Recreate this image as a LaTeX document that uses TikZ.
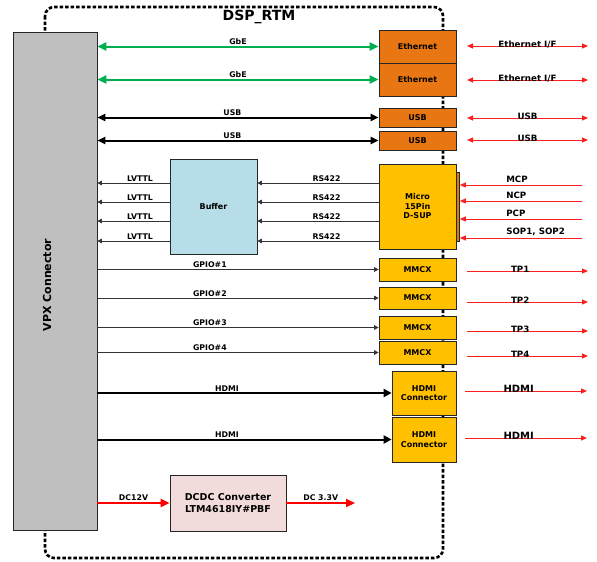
\documentclass[tikz,border=0pt]{standalone}
\usepackage{fontspec}
\setmainfont{DejaVu Sans}
\usetikzlibrary{arrows.meta}
\definecolor{gbegreen}{RGB}{0,176,80}
\definecolor{sigred}{RGB}{255,30,30}
\definecolor{ethorange}{RGB}{232,118,18}
\definecolor{connyellow}{RGB}{255,192,0}
\definecolor{stripbrown}{RGB}{214,128,10}
\definecolor{bufblue}{RGB}{183,221,232}
\definecolor{dcpink}{RGB}{242,220,219}
\definecolor{vpxgray}{RGB}{191,191,191}

\begin{document}
\begin{tikzpicture}[x=1pt,y=-1pt,line width=0.8pt,>=Triangle,
  box/.style={draw=black!85,line width=0.7pt,inner sep=0pt,align=center,
    font=\bfseries\fontsize{8}{9.5}\selectfont},
  lbl/.style={anchor=south,inner sep=1pt,font=\bfseries\fontsize{7.8}{9}\selectfont},
  rlbl/.style={anchor=base,inner sep=0pt,yshift=-1pt,font=\bfseries\fontsize{8.7}{10}\selectfont},
  gbe/.style={draw=gbegreen,line width=2pt,{Triangle[length=9pt,width=8pt]}-{Triangle[length=9pt,width=8pt]}},
  usbline/.style={line width=2pt,{Triangle[length=8pt,width=7pt]}-{Triangle[length=8pt,width=7pt]}},
  sig/.style={draw=black!80,line width=0.8pt,-{Triangle[length=4.5pt,width=4.5pt]}},
  redone/.style={draw=sigred,line width=1pt,-{Triangle[length=6pt,width=5pt]}},
  redbi/.style={draw=sigred,line width=1pt,{Triangle[length=6pt,width=5pt]}-{Triangle[length=6pt,width=5pt]}},
  hdmiline/.style={line width=2pt,-{Triangle[length=8pt,width=8pt]}},
  dcline/.style={draw=red,line width=2pt,-{Triangle[length=9pt,width=8pt]}}]
\useasboundingbox (0,0) rectangle (597,562);
% ================= board outline =================
\draw[line width=2.6pt,dash pattern=on 3.5pt off 2pt,rounded corners=9pt] (45,7) rectangle (443,558);
\node[font=\bfseries\fontsize{14}{16}\selectfont] (title) at (259,17) {DSP\_RTM};
% ================= blocks =================
\node[box,fill=vpxgray,minimum width=84,minimum height=498] (vpx) at (55,281) {};
\node[rotate=90,font=\bfseries\fontsize{11}{13}\selectfont] (vpxlbl) at (47,285) {VPX Connector};
\node[box,fill=ethorange,minimum width=77,minimum height=33] (eth1) at (417.5,46.5) {Ethernet};
\node[box,fill=ethorange,minimum width=77,minimum height=33] (eth2) at (417.5,79.5) {Ethernet};
\node[box,fill=ethorange,minimum width=77,minimum height=19] (usb1) at (417.5,117.5) {USB};
\node[box,fill=ethorange,minimum width=77,minimum height=19] (usb2) at (417.5,140.5) {USB};
\node[box,fill=stripbrown,minimum width=4,minimum height=69] (strip) at (457.5,206.5) {};
\node[box,fill=connyellow,minimum width=77,minimum height=85] (dsub) at (417.5,206.5) {Micro\\15Pin\\D-SUP};
\node[box,fill=connyellow,minimum width=77,minimum height=23] (mmcx1) at (417.5,269.5) {MMCX};
\node[box,fill=connyellow,minimum width=77,minimum height=22] (mmcx2) at (417.5,298) {MMCX};
\node[box,fill=connyellow,minimum width=77,minimum height=23] (mmcx3) at (417.5,327.5) {MMCX};
\node[box,fill=connyellow,minimum width=77,minimum height=23] (mmcx4) at (417.5,352.5) {MMCX};
\node[box,fill=connyellow,minimum width=64,minimum height=44] (hdmi1) at (424,393) {HDMI\\Connector};
\node[box,fill=connyellow,minimum width=64,minimum height=45] (hdmi2) at (424,439.5) {HDMI\\Connector};
\node[box,fill=bufblue,minimum width=87,minimum height=95] (buf) at (213.5,206.5) {Buffer};
\node[box,fill=dcpink,minimum width=116,minimum height=56,font=\bfseries\fontsize{9.5}{12}\selectfont] (dcdc) at (228,503) {DCDC Converter\\LTM4618IY\#PBF};
% ================= links to VPX =================
\foreach \n in {eth1,eth2}
  \draw[gbe] (vpx.east |- \n.west) -- (\n.west) node[midway,lbl,text=black]{GbE};
\foreach \n in {usb1,usb2}
  \draw[usbline] (vpx.east |- \n.west) -- (\n.west) node[pos=0.48,lbl]{USB};
\foreach \yy [count=\i] in {183,202,221,241} {
  \coordinate (rs\i) at (dsub.west |- 0,\yy);
  \draw[sig] (rs\i) -- (rs\i -| buf.east) node[pos=0.43,lbl]{RS422};
  \draw[sig] (rs\i -| buf.west) -- (rs\i -| vpx.east) node[pos=0.41,lbl]{LVTTL};
}
\foreach \i in {1,...,4}
  \draw[sig] (vpx.east |- mmcx\i.west) -- (mmcx\i.west) node[pos=0.4,lbl]{GPIO\#\i};
\foreach \n in {hdmi1,hdmi2}
  \draw[hdmiline] (vpx.east |- \n.west) -- (\n.west) node[pos=0.44,lbl]{HDMI};
\draw[dcline] (vpx.east |- dcdc.west) -- (dcdc.west) node[midway,lbl]{DC12V};
\coordinate (dcout) at (355,503);
\draw[dcline] (dcdc.east) -- (dcout) node[midway,lbl]{DC 3.3V};
% ================= external interfaces =================
\foreach \yy/\txt [count=\i] in {46/{Ethernet I/F},80/{Ethernet I/F},118/USB,140/USB} {
  \coordinate (ifa\i) at (467,\yy);
  \coordinate (ifb\i) at (588,\yy);
  \draw[redbi] (ifa\i) -- (ifb\i) node[midway,rlbl]{\txt};
}
\foreach \yy/\txt [count=\i] in {185/MCP,201/NCP,219/PCP,238/{SOP1, SOP2}} {
  \coordinate (sp\i) at (582,\yy);
  \draw[redone] (sp\i) -- (sp\i -| strip.east) node[pos=0.64,anchor=south west,inner sep=2pt,
    font=\bfseries\fontsize{8.7}{10}\selectfont]{\txt};
}
\foreach \yy [count=\i] in {271,302,331,356} {
  \coordinate (tpa\i) at (467,\yy);
  \coordinate (tpb\i) at (588,\yy);
  \draw[redone] (tpa\i) -- (tpb\i) node[pos=0.44,rlbl]{TP\i};
}
\foreach \yy [count=\i] in {391,438} {
  \coordinate (hda\i) at (465,\yy);
  \coordinate (hdb\i) at (587,\yy);
  \draw[redone] (hda\i) -- (hdb\i) node[pos=0.44,rlbl,font=\bfseries\fontsize{10}{12}\selectfont]{HDMI};
}
\end{tikzpicture}
\end{document}
